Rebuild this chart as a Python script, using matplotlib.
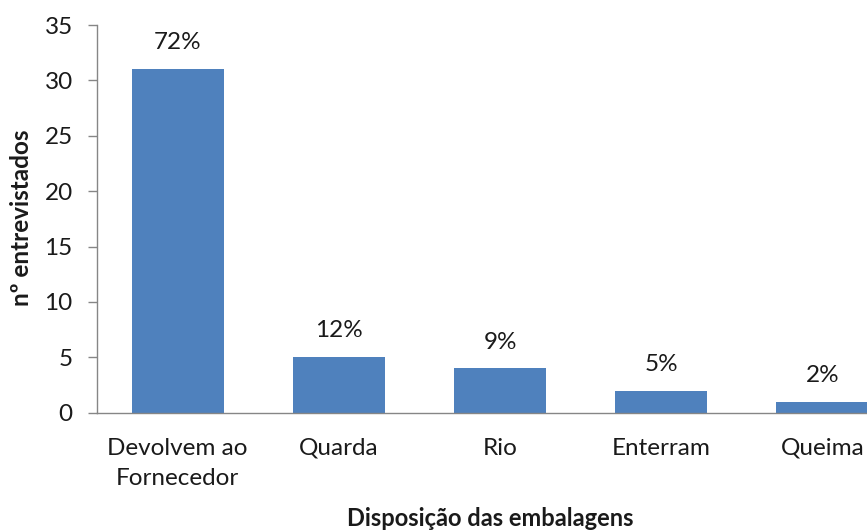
import matplotlib
matplotlib.use("Agg")
import matplotlib.pyplot as plt

categories = ["Devolvem ao\nFornecedor", "Quarda", "Rio", "Enterram", "Queima"]
values = [31, 5, 4, 2, 1]
percent_labels = ["72%", "12%", "9%", "5%", "2%"]
yticks = [0, 5, 10, 15, 20, 25, 30, 35]

plt.rcParams['font.family'] = ['Lato', 'DejaVu Sans']

W, H = 867, 532
fig = plt.figure(figsize=(W / 100, H / 100), dpi=100)
left, right, bottom, top = 97, 903, 412.7, 25
ax = fig.add_axes([left / W, (H - bottom) / H, (right - left) / W, (bottom - top) / H])

x = list(range(len(categories)))
bars = ax.bar(x, values, width=0.57, color="#4F81BD", zorder=2)
for xi, v, lab in zip(x, values, percent_labels):
    ax.annotate(lab, (xi, v), xytext=(0, 19), textcoords="offset points",
                ha="center", va="center", fontsize=17.5, color="#1a1a1a")

ax.set_xlim(-0.5, 4.5)
ax.set_ylim(0, 35)
ax.set_yticks(yticks)
ax.set_xticks(x)
ax.set_xticklabels(categories, fontsize=17.5, color="#1a1a1a", linespacing=1.55)
ax.tick_params(axis="y", labelsize=17.5, colors="#1a1a1a", length=6.5, color="#868686", width=1, pad=11)
ax.tick_params(axis="x", length=0, pad=18)
for s in ["top", "right"]:
    ax.spines[s].set_visible(False)
for s in ["left", "bottom"]:
    ax.spines[s].set_color("#868686")
    ax.spines[s].set_linewidth(1)

fig.text(22 / W, (H - 218) / H, "nº entrevistados", rotation=90, ha="center", va="center",
         fontsize=17.5, fontweight="bold", color="#1a1a1a")
fig.text(490 / W, (H - 519) / H, "Disposição das embalagens", ha="center", va="center",
         fontsize=17, fontweight="bold", color="#1a1a1a")

fig.savefig("out.png", dpi=100)
